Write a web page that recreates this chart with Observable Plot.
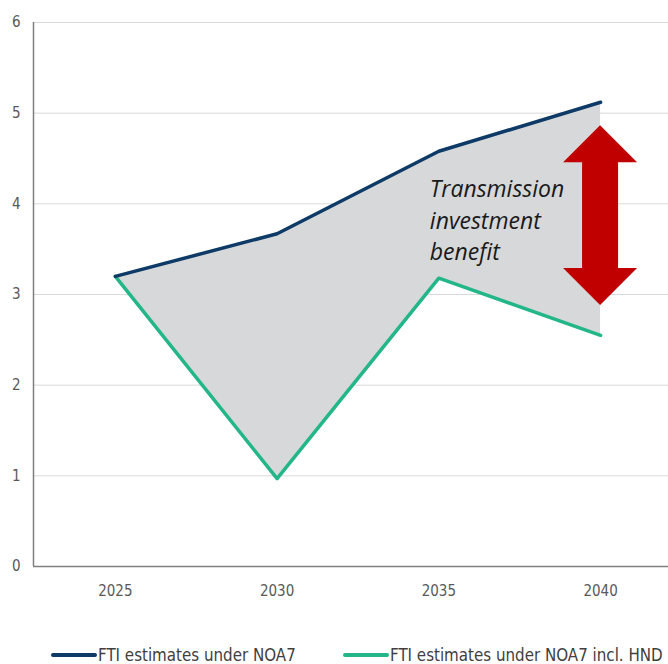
<!DOCTYPE html>
<html><head><meta charset="utf-8">
<script src="https://cdn.jsdelivr.net/npm/d3@7"></script>
<script src="https://cdn.jsdelivr.net/npm/@observablehq/plot@0.6"></script>
<style>
body{margin:0;background:#fff;}
#wrap{position:relative;width:668px;height:664px;overflow:hidden;}
.leg{position:absolute;top:644px;height:22px;font-family:"Liberation Sans Narrow","DejaVu Sans Condensed",sans-serif;font-size:16.8px;line-height:22px;color:#404040;display:flex;align-items:center;white-space:nowrap;}
.sw{display:inline-block;width:46px;height:4px;border-radius:2px;margin-right:1px;}
</style></head>
<body><div id="wrap"></div>
<script>
const years = [2025, 2030, 2035, 2040];
const noa7 = [3.2, 3.67, 4.58, 5.12];
const noa7Hnd = [3.2, 0.97, 3.18, 2.55];
const seriesNames = ["FTI estimates under NOA7", "FTI estimates under NOA7 incl. HND"];
const seriesColors = ["#0d3a66", "#22b689"];
const yTicks = [0, 1, 2, 3, 4, 5, 6];
const annotationLines = ["Transmission", "investment", "benefit"];
const annotationAt = {year: 2035, value: 4.18};
const arrowAt = {year: 2040, top: 4.86, bottom: 2.88};

const rows = years.map((y, i) => ({year: y, a: noa7[i], b: noa7Hnd[i]}));

const font = "'Liberation Sans Narrow','DejaVu Sans Condensed',sans-serif";

const chart = Plot.plot({
  width: 668, height: 640,
  marginTop: 22, marginBottom: 74, marginLeft: 33, marginRight: 0,
  style: {fontFamily: font, fontSize: "15px", color: "#595959", background: "#fff"},
  x: {domain: [2022.47, 2042.1], label: null},
  y: {domain: [0, 6], label: null},
  marks: [
    Plot.gridY(yTicks.filter(d => d > 0), {stroke: "#d9d9d9", strokeOpacity: 1, strokeWidth: 1}),
    Plot.areaY(rows, {x: "year", y1: "b", y2: "a", fill: "#d7d8da"}),
    Plot.ruleY([0], {stroke: "#7f7f7f", strokeWidth: 1.5}),
    Plot.ruleX([2022.47], {stroke: "#7f7f7f", strokeWidth: 1.5}),
    Plot.axisX(years, {tickSize: 0, tickPadding: 19, tickFormat: d => String(d), fontSize: 15, fill: "#595959", label: null}),
    Plot.axisY(yTicks, {tickSize: 0, tickPadding: 13, tickFormat: d => String(d), fontSize: 15, fill: "#595959", label: null}),
    Plot.line(rows, {x: "year", y: "b", stroke: seriesColors[1], strokeWidth: 3.5}),
    Plot.line(rows, {x: "year", y: "a", stroke: seriesColors[0], strokeWidth: 3.5}),
    Plot.text([annotationAt], {x: "year", y: "value", text: () => annotationLines.join("\n"),
      textAnchor: "start", lineAnchor: "middle", dx: -9, dy: 31, lineHeight: 1.36,
      fontSize: 23, fontStyle: "italic", fill: "#1a1a1a", fontFamily: "'Open Sans',sans-serif"}),
    Plot.dot([arrowAt], {x: "year", y: "top", render: (index, scales) => {
      const cx = scales.x(arrowAt.year), t = scales.y(arrowAt.top), b = scales.y(arrowAt.bottom);
      const hw = 37, sw = 18, hl = 37;
      const pts = [[cx, t], [cx + hw, t + hl], [cx + sw, t + hl], [cx + sw, b - hl], [cx + hw, b - hl],
        [cx, b], [cx - hw, b - hl], [cx - sw, b - hl], [cx - sw, t + hl], [cx - hw, t + hl]];
      const p = document.createElementNS("http://www.w3.org/2000/svg", "polygon");
      p.setAttribute("points", pts.map(d => d.join(",")).join(" "));
      p.setAttribute("fill", "#c00000");
      return p;
    }})
  ]
});
const wrap = document.getElementById("wrap");
wrap.appendChild(chart);
const lefts = [51, 343];
seriesNames.forEach((n, i) => {
  const d = document.createElement("div");
  d.className = "leg";
  d.style.left = lefts[i] + "px";
  d.innerHTML = `<span class="sw" style="background:${seriesColors[i]}"></span>${n}`;
  wrap.appendChild(d);
});
</script></body></html>
